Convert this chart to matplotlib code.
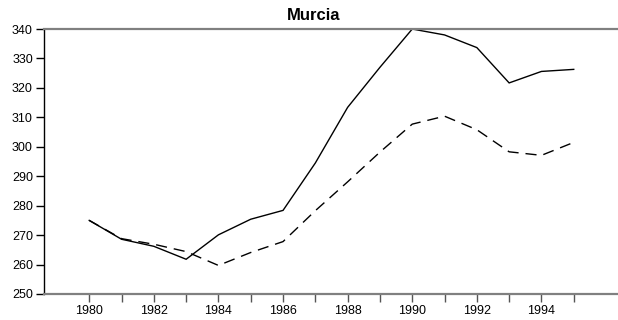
import matplotlib
matplotlib.use("Agg")
import matplotlib.pyplot as plt

plt.rcParams['font.family'] = ['Liberation Sans', 'DejaVu Sans']

years = list(range(1980, 1996))
actual = [275.0, 268.6, 266.2, 261.8, 270.1, 275.4, 278.4, 294.5, 313.4, 327.0,
          340.0, 338.0, 333.7, 321.7, 325.6, 326.3]
trend = [275.0, 268.8, 266.9, 264.4, 259.7, 264.1, 267.8, 278.3, 288.1, 298.2,
         307.7, 310.4, 305.8, 298.3, 297.1, 301.5]
xtick_labels = [str(y) if y % 2 == 0 else "" for y in years]
yticks = [250, 260, 270, 280, 290, 300, 310, 320, 330, 340]

fig = plt.figure(figsize=(6.18, 3.2), dpi=100)
ax = fig.add_axes([0.0712, 0.08125, 0.9288, 0.828])

ax.plot(years, actual, color="black", lw=1.0, solid_joinstyle="miter")
ax.plot(years, trend, color="black", lw=1.0, dashes=(8, 5))

ax.set_xlim(1978.6, 1996.37)
ax.set_ylim(250, 340)
ax.set_xticks(years)
ax.set_xticklabels(xtick_labels, fontsize=9)
ax.set_yticks(yticks)
ax.set_yticklabels([str(v) for v in yticks], fontsize=9)
ax.tick_params(axis="both", direction="out", length=6, width=1.0, color="black", pad=2)
ax.tick_params(axis="x", color="#555555")

for side in ("top", "bottom"):
    ax.spines[side].set_color("#808080")
    ax.spines[side].set_linewidth(1.6)
ax.spines["left"].set_color("black")
ax.spines["left"].set_linewidth(1.0)
ax.spines["right"].set_visible(False)

fig.text(0.508, 0.953, "Murcia", ha="center", va="center", fontsize=12, fontweight="bold")

fig.savefig("out.png", dpi=100)
